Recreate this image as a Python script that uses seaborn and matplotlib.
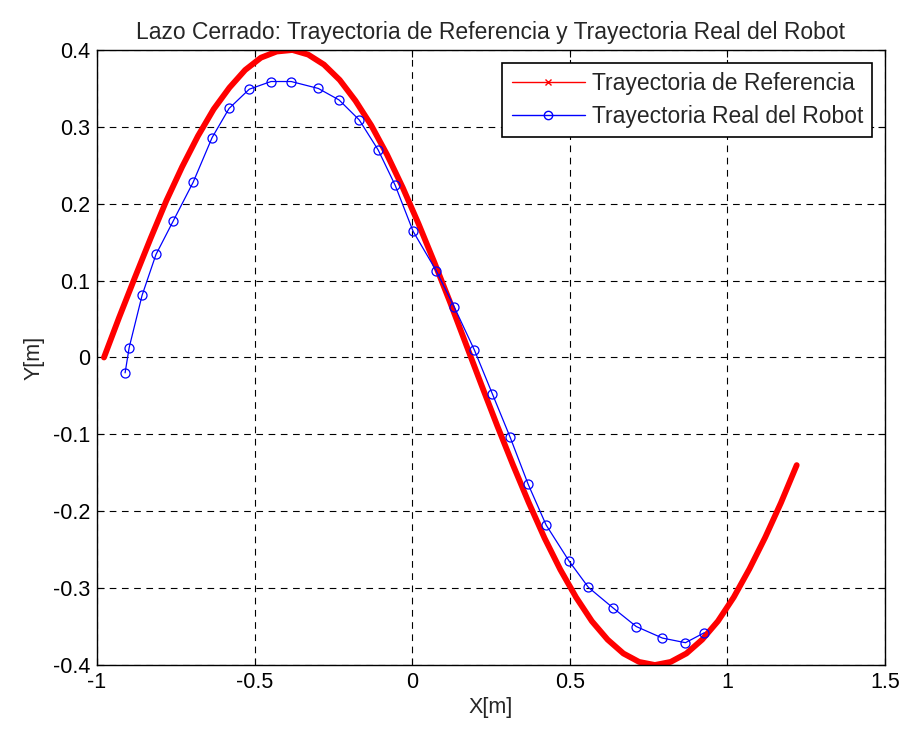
import matplotlib
matplotlib.use('Agg')
import matplotlib.pyplot as plt
import seaborn as sns
from matplotlib.lines import Line2D

# Reference trajectory
ref_x = [-0.978, -0.93, -0.88, -0.83, -0.78, -0.73, -0.68, -0.63, -0.58, -0.53,
         -0.48, -0.43, -0.38, -0.33, -0.28, -0.23, -0.18, -0.13, -0.08, -0.03,
         0.02, 0.07, 0.12, 0.17, 0.22, 0.27, 0.32, 0.37, 0.42, 0.47,
         0.52, 0.57, 0.62, 0.67, 0.72, 0.77, 0.82, 0.87, 0.92, 0.97,
         1.02, 1.07, 1.12, 1.17, 1.22]
ref_y = [0.000, 0.052, 0.104, 0.155, 0.204, 0.248, 0.288, 0.323, 0.351, 0.374,
         0.390, 0.398, 0.400, 0.394, 0.381, 0.361, 0.334, 0.302, 0.264, 0.221,
         0.174, 0.124, 0.072, 0.018, -0.036, -0.089, -0.140, -0.189, -0.235, -0.276,
         -0.312, -0.343, -0.367, -0.385, -0.396, -0.400, -0.396, -0.385, -0.367, -0.343,
         -0.312, -0.275, -0.234, -0.189, -0.140]

# Real robot trajectory
robot_x = [-0.911, -0.898, -0.857, -0.813, -0.759, -0.695, -0.635, -0.581, -0.517, -0.448,
           -0.384, -0.298, -0.232, -0.168, -0.108, -0.054, 0.003, 0.076, 0.133, 0.197,
           0.254, 0.311, 0.368, 0.425, 0.498, 0.559, 0.638, 0.711, 0.794, 0.867, 0.927]
robot_y = [-0.020, 0.013, 0.081, 0.134, 0.177, 0.228, 0.286, 0.324, 0.349, 0.359,
           0.359, 0.350, 0.335, 0.309, 0.270, 0.224, 0.164, 0.113, 0.066, 0.010,
           -0.047, -0.104, -0.165, -0.218, -0.265, -0.299, -0.326, -0.350, -0.365, -0.371, -0.358]

sns.set_theme(style="white")
plt.rcParams['font.family'] = ['Liberation Sans', 'DejaVu Sans']
fs = 15.5
fs_big = 16.5

fig = plt.figure(figsize=(9.01, 7.31), dpi=100)
ax = fig.add_axes([0.1077, 0.0903, 0.8745, 0.8413])

# thick red reference curve (dense x markers in the original)
sns.lineplot(x=ref_x, y=ref_y, sort=False, estimator=None, color='red',
             linewidth=4.2, ax=ax)
sns.lineplot(x=robot_x, y=robot_y, sort=False, estimator=None, color='blue',
             linewidth=0.9, marker='o', markersize=6.5, markerfacecolor='none',
             markeredgecolor='blue', markeredgewidth=0.9, ax=ax)

ax.set_xlim(-1, 1.5)
ax.set_ylim(-0.4, 0.4)
ax.set_xticks([-1, -0.5, 0, 0.5, 1, 1.5])
ax.set_xticklabels(['-1', '-0.5', '0', '0.5', '1', '1.5'])
ax.set_yticks([-0.4, -0.3, -0.2, -0.1, 0, 0.1, 0.2, 0.3, 0.4])
ax.set_yticklabels(['-0.4', '-0.3', '-0.2', '-0.1', '0', '0.1', '0.2', '0.3', '0.4'])

ax.grid(True, color='black', linestyle=(0, (6, 5)), linewidth=0.8)
ax.tick_params(direction='in', length=5, width=0.8, labelsize=fs, colors='black',
               top=True, right=True, bottom=True, left=True, pad=5)
for s in ax.spines.values():
    s.set_color('black')
    s.set_linewidth(1.0)

ax.set_title('Lazo Cerrado: Trayectoria de Referencia y Trayectoria Real del Robot',
             fontsize=fs_big, pad=8)
ax.set_xlabel('X[m]', fontsize=fs, labelpad=3)
ax.set_ylabel('Y[m]', fontsize=fs, labelpad=6)

handles = [
    Line2D([0], [0], color='red', linewidth=1, marker='x', markersize=4),
    Line2D([0], [0], color='blue', linewidth=1, marker='o', markersize=6,
           markerfacecolor='none'),
]
leg = ax.legend(handles, ['Trayectoria de Referencia', 'Trayectoria Real del Robot'],
                loc='upper right', fontsize=fs_big, frameon=True, fancybox=False,
                edgecolor='black', framealpha=1, borderaxespad=0.55,
                handlelength=3.2, handletextpad=0.3, borderpad=0.4,
                labelspacing=0.45)
leg.get_frame().set_linewidth(1.2)

fig.savefig('out.png', dpi=100, facecolor='white')
